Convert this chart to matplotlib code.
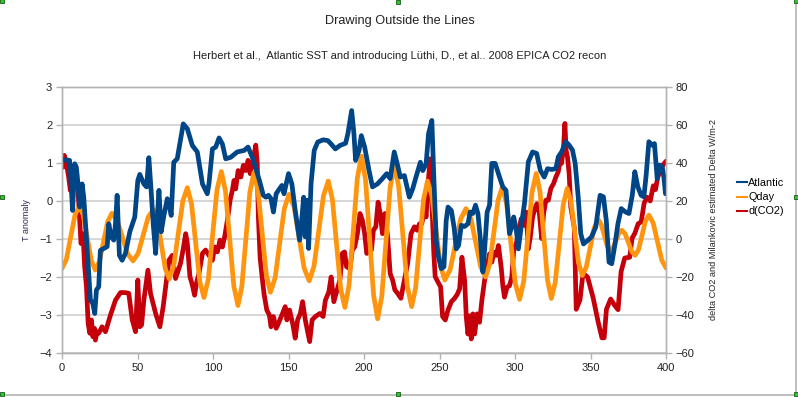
import matplotlib
matplotlib.use("Agg")
import matplotlib.pyplot as plt
from matplotlib.lines import Line2D

plt.rcParams['font.family'] = ['Liberation Sans', 'DejaVu Sans']

# Atlantic SST anomaly (left axis)
atl_x = [0, 1.5, 3.3, 5, 6, 7, 8.4, 9.5, 10.6, 11.7, 13.3, 14.4, 16, 17.7, 18.8, 20.4, 21.7, 22.8, 24.3, 25.4,
         27.7, 29.9, 31, 32.5, 34.3, 35.4, 36.5, 38, 39.8, 42, 44.9, 48.2, 50.2, 51.5, 54.2, 56, 57.5, 59, 60.4, 62,
         63, 64.2, 65.7, 67.5, 69.7, 70.8, 72.3, 74, 76.3, 78, 80.3, 83, 86.3, 89.6, 93, 96.2, 97.3, 99.6, 101.8, 104,
         106.2, 108.4, 111.7, 116, 120.6, 123.2, 126.5, 131, 133.3, 135, 136.7, 138.4, 140, 141.8, 143.3, 145.6, 147, 150, 152.2, 154.4,
         157.3, 158.9, 160, 161, 162.2, 163.3, 164.9, 167, 169.3, 172.9, 176, 178.2, 181, 184, 187.8, 189.3, 191.8, 193.3, 194.4, 196.7,
         198.2, 200.4, 203.3, 205.6, 208.9, 212.2, 215, 217.3, 220, 222.2, 224, 226.7, 230, 232.2, 234.4, 237.3, 238.9, 241.1, 242.7, 244.9,
         246.2, 247.8, 249.3, 251.1, 252.9, 254.4, 255.6, 257.8, 259.6, 261.1, 262.6, 264.4, 266.6, 268.8, 270.3, 272, 273.8, 275.4, 277.1, 278.7,
         279.8, 281.5, 283.1, 284.6, 286.8, 289.7, 291.9, 294, 296.3, 297.8, 299.1, 300.7, 302.2, 304, 306.2, 308.8, 311.6, 314.3, 316.7, 319.3,
         321.5, 324.2, 327, 328.6, 330.8, 333.6, 335.8, 338, 339.8, 341.8, 343.5, 345.3, 348, 350.5, 353.4, 356.3, 358.5, 360.4, 362.2, 364,
         366.2, 368.1, 370.3, 373.2, 375.4, 377.6, 379.3, 381.3, 383.5, 385.3, 386.8, 388.6, 390.8, 392.3, 394.1, 395.8, 397.4, 398.5, 399.6]
atl_t = [1.11, 1.07, 1.08, 1.07, 0.45, -0.25, 0.98, 0.89, 0.45, -0.16, 0.45, 0.1, -0.86, -1.9, -2.6, -2.7, -2.96, -2.34, -2.26, -1.3,
         -1.25, -1.2, -0.6, -0.94, -1.03, -0.6, 0.15, -1.43, -1.56, -1.38, -0.81, -0.42, 0.54, 0.7, 0.45, 0.37, 1.14, 0.28, -0.6, -1.38,
         -0.5, 0.28, -0.81, -0.38, 0.06, -0.07, -0.38, 1.02, 1.11, 1.5, 2.03, 1.9, 1.46, 1.29, 0.45, 0.19, 0.45, 1.37, 1.42, 1.66,
         1.5, 1.11, 1.15, 1.29, 1.33, 1.42, 1.1, 0.5, 0.15, 0.1, 0.15, 0.06, -0.29, 0.19, 0.28, 0.41, 0.19, 0.72, 0.45, -0.24,
         -1.03, -0.42, 0.1, -0.94, 0.02, -1.25, 0.45, 1.33, 1.55, 1.61, 1.59, 1.5, 1.37, 1.46, 1.52, 1.77, 2.38, 1.77, 1.07, 1.33,
         1.72, 1.42, 0.8, 0.37, 0.45, 0.59, 0.72, 0.59, 1.29, 0.94, 0.63, 0.67, 0.1, 0.32, 0.63, 1.02, 0.8, 0.98, 1.77, 2.12,
         0.63, -1.03, -1.47, -1.78, -1.73, -0.51, -0.16, -0.25, -0.69, -1.26, -1.17, -0.64, -0.67, -0.6, -0.29, -0.33, -0.11, -0.33, -1.04, -1.87,
         -1.3, -0.29, -0.11, 0.99, 0.99, 0.63, 0.37, 0.28, -0.86, -0.69, -0.42, -0.73, -1.26, -0.69, -0.07, 1.03, 1.29, 1.25, 0.81, 0.63,
         0.85, 0.83, 0.85, 1.16, 1.29, 1.56, 1.47, 1.34, 0.99, 0.11, -0.86, -1.13, -1.04, -0.95, -0.69, 0.15, 0.11, -0.51, -1.61, -1.65,
         -1.13, -0.6, -0.2, -0.29, -0.33, 0.15, 0.77, 0.37, 0.15, 0.11, 0.68, 1.56, 1.47, 1.51, 0.59, 0.94, 0.9, 0.63, 0.19]

# Qday insolation anomaly (right axis)
qday_x = [0, 2.9, 5.75, 8.6, 11.5, 14.1, 16.75, 19.4, 22, 24.75, 27.5, 30.25, 33, 36.5, 40, 43.5, 47, 50.4, 53.75, 57.1,
          60.5, 63.1, 65.75, 68.4, 71, 74, 77, 80, 83, 85.75, 88.5, 91.25, 94, 96.9, 99.75, 102.6, 105.5, 108.25, 111, 113.75,
          116.5, 119.1, 121.75, 124.4, 127, 129.75, 132.5, 135.25, 138, 141.1, 144.15, 147.2, 150.3, 153.65, 157, 160.35, 163.7, 166.85, 170, 173.15,
          176.3, 179.05, 181.8, 184.55, 187.3, 190.05, 192.8, 195.55, 198.3, 201, 203.65, 206.3, 209, 211.75, 214.5, 217.25, 220, 222.9, 225.75, 228.6,
          231.5, 234.1, 236.75, 239.4, 242, 244.9, 247.75, 250.6, 253.5, 257, 260.5, 264, 267.5, 270.75, 274, 277.25, 280.5, 283.25, 286, 288.75,
          291.5, 294.4, 297.25, 300.1, 303, 305.75, 308.5, 311.25, 314, 316.5, 319, 321.5, 324, 326.6, 329.25, 331.9, 334.5, 337, 339.5, 342,
          344.5, 347.1, 349.75, 352.4, 355, 357, 359, 361, 363, 364.9, 366.85, 368.8, 370.7, 372.9, 375.1, 377.3, 379.5, 381.8, 384.05, 386.3,
          388.6, 391.45, 394.3, 397.15, 400]
qday_w = [-15.5, -10.7, 1.0, 12.7, 17.5, 12.6, 0.6, -11.4, -16.3, -11.9, -1.4, 9.1, 13.5, 9.85, 1.0, -7.85, -11.5, -7.6, 2.0, 11.6,
          15.5, 10.2, -2.75, -15.7, -21.0, -14.0, 3.0, 20.0, 27.0, 18.6, -1.9, -22.4, -30.8, -21.1, 2.35, 25.8, 35.5, 25.2, 0.25, -24.7,
          -35.0, -24.8, -0.1, 24.6, 34.8, 25.6, 3.4, -18.8, -28.0, -20.5, -2.25, 16.0, 23.5, 16.9, 0.75, -15.4, -22.0, -14.3, 4.25, 22.8,
          30.5, 20.8, -2.75, -26.3, -36.0, -24.4, 3.8, 32.0, 43.6, 31.1, 0.8, -29.5, -42.0, -30.2, -1.6, 27.0, 38.8, 27.9, 1.6, -24.7,
          -35.6, -25.95, -2.55, 20.8, 30.5, 22.9, 4.45, -14.0, -21.6, -16.1, -2.8, 10.5, 16.0, 10.7, -2.0, -14.7, -20.0, -13.1, 3.65, 20.4,
          27.3, 18.7, -2.25, -23.2, -31.8, -22.1, 1.35, 24.8, 34.5, 24.9, 1.6, -21.7, -31.3, -22.85, -2.35, 18.1, 26.6, 19.9, 3.7, -12.5,
          -19.2, -14.9, -4.5, 5.9, 10.2, 7.8, 2.1, -3.6, -6.0, -4.5, -0.7, 3.05, 4.6, 2.7, -2.0, -6.7, -8.6, -5.5, 1.95, 9.4,
          12.5, 8.4, -1.4, -11.2, -15.3]

# d(CO2) (right axis)
co2_x = [0, 0.7, 1.5, 2.9, 4.4, 5.5, 6.6, 7.7, 9.5, 10.6, 11.7, 12.6, 13.9, 15, 16.2, 17.3, 18.4, 19.5, 20.4, 21.5,
         22.1, 23.2, 24.3, 26.5, 28.8, 32.1, 35.4, 38.7, 42, 44.2, 46.5, 48.7, 50.2, 51.5, 52.7, 54.2, 56, 56.9, 58.6, 62,
         64.8, 67, 69.2, 70.8, 73, 75.2, 77, 78.5, 80.3, 81.9, 83, 84.7, 86.3, 87.8, 89.2, 90.7, 93, 95.1, 97.3, 99.6,
         101.1, 102.9, 104.6, 106.2, 107.7, 109.5, 111.3, 112.8, 113.9, 115, 116.6, 118.4, 120.1, 121.7, 123.2, 124.6, 126.1, 128.3, 129.3, 130,
         131.2, 132.5, 133.8, 135.6, 137.3, 138.4, 140, 141.8, 143.3, 145.6, 147.8, 148.9, 150.7, 152.9, 154.4, 156, 157.8, 159.3, 161.1, 162.9,
         164, 165.6, 167.8, 170.7, 172.9, 174.4, 176.7, 178.2, 180, 182.2, 184, 185.6, 187.1, 188.4, 190.7, 192.2, 193.8, 195.6, 197.3, 198.9,
         200.4, 201.8, 203.3, 204.9, 206.2, 207.8, 209.3, 210.7, 212.2, 213.8, 215.6, 217.3, 218.9, 220.4, 222.2, 224.4, 226.7, 228.9, 231.1, 233.3,
         235.1, 236.7, 238.2, 240, 241.1, 242.2, 243.8, 245.1, 246.2, 247.1, 248.9, 250.7, 252, 253.8, 255.6, 257.8, 260, 261.8, 263.3, 264.8,
         266.6, 267.7, 268.8, 269.9, 271, 272.1, 273.2, 274.9, 276.5, 278, 279.8, 281.5, 283.1, 284.6, 286, 287.5, 289, 290.8, 291.9, 293,
         294.7, 296.3, 297.8, 299.1, 300.7, 302.2, 304, 305.7, 307.3, 308.8, 310.1, 311.6, 313.2, 314.5, 316, 317.6, 318.9, 320.4, 322, 323.7,
         325.5, 327, 328.6, 329.9, 330.8, 332.1, 333, 333.8, 334.7, 335.8, 336.9, 338, 339.2, 340.5, 343, 345, 348, 351.7, 355, 357.5,
         359, 360.5, 363.3, 366, 368.2, 370.2, 372.6, 375.9, 377.5, 379.3, 381.5, 383.5, 385.5, 387.5, 389.5, 391.5, 393, 394.5, 396.3, 398,
         400]
co2_d = [43, 37.8, 44, 39.6, 32.6, 25.6, 30.8, 27.4, 30.8, 25.6, 9.8, -2.4, 2.8, -14.6, -25.2, -44.4, -49.6, -42.6, -51.4, -47,
         -53.2, -48.8, -49.6, -46.2, -48.8, -40, -32.2, -28.2, -28.2, -28.6, -42.6, -48.8, -21.6, -46.2, -45.2, -32.2, -21.6, -16.4, -28.6, -39.2,
         -46.2, -35.6, -21.6, -11.2, -8.6, -20.8, -16.4, -12.8, -5, 2.8, -2.4, -19.8, -24.2, -29.6, -22.6, -18.2, -7.6, -5.8, -8.6, -11.2,
         -4.2, -6.8, -0.6, -4.2, 1.2, 9.8, 20.4, 25.6, 30.8, 26.4, 36, 32.6, 38.8, 36, 41.4, 34.4, 39.6, 49.4, 40, 12,
         -10, -20, -29, -37.4, -40, -46.2, -40.8, -47, -44.4, -40, -35.6, -42.6, -37.4, -45.2, -52.2, -42.6, -39.2, -33, -42.6, -49.6,
         -54, -42.6, -40.8, -39.2, -40.8, -32.2, -27.8, -20, -33, -26.8, -21.6, -7.6, -6.8, -14.6, -15.6, -5.8, -4.2, 2.8, 13.4, 9.8,
         2.8, -7.6, -5, -5.8, 4.6, 6.4, 19.4, 13.4, 2.8, 13.4, 1.2, -18.2, -21.6, -26.8, -28.6, -31.2, -21.6, -12.8, 2.8, 6.4,
         4.6, 8, 8, 15.2, 11.6, 27.4, 42.2, 15.2, -7.6, -19.8, -22.6, -25.2, -40.8, -42.6, -37.4, -33, -31.2, -29, -26.2, -9.6,
         -21.8, -41.2, -50, -40.4, -52.6, -39.4, -50, -39.4, -43.8, -32.4, -21.8, -14.8, -7.8, -12.2, -7, -8.6, -3.4, -14.8, -24.6, -30.6,
         -25.4, -24.6, -20.2, -6, -2.6, 2.8, 10.6, 7.2, 14.2, -5.2, 1, 11.6, 16, 18.6, 14.2, 0.2, 13.4, 20.4, 20.4, 26.6,
         29.2, 32.6, 35.4, 41.4, 39.8, 48.4, 60.8, 46.8, 43.2, 34.4, 16.8, 11.6, 6, -37, -32, -18, -20, -31, -43.6, -52,
         -52, -37, -31.6, -35, -37.2, -17.2, -10, -9.6, 0.4, 3, 8, 9, 19, 22, 20, 28, 26, 32.6, 36, 39,
         41]

left_ticks = [-4, -3, -2, -1, 0, 1, 2, 3]
right_ticks = [-60, -40, -20, 0, 20, 40, 60, 80]
x_ticks = [0, 50, 100, 150, 200, 250, 300, 350, 400]

BLUE = '#004586'
ORANGE = '#ff950e'
RED = '#c5000b'
FRAME = '#b3b3b3'
TEXT = '#222222'

fig = plt.figure(figsize=(7.98, 3.97), dpi=100)
ax = fig.add_axes([0.0777, 0.1108, 0.757, 0.6701])
ax2 = ax.twinx()

ax2.plot(co2_x, co2_d, color=RED, lw=3.4, solid_joinstyle='round', solid_capstyle='round', zorder=2)
ax2.plot(qday_x, qday_w, color=ORANGE, lw=3.4, solid_joinstyle='round', solid_capstyle='round', zorder=3)
ax.plot(atl_x, atl_t, color=BLUE, lw=3.4, solid_joinstyle='round', solid_capstyle='round')

# blue series above the secondary axis; grid lives on the secondary axis
ax.set_zorder(ax2.get_zorder() + 1)
ax.patch.set_visible(False)
ax2.set_axisbelow(True)
ax2.grid(axis='y', color='#d0d0d0', lw=1.2)

ax.set_xlim(0, 400)
ax.set_ylim(-4, 3)
ax2.set_ylim(-60, 80)
ax.set_xticks(x_ticks)
ax.set_yticks(left_ticks)
ax2.set_yticks(right_ticks)

for a in (ax, ax2):
    for s in a.spines.values():
        s.set_color(FRAME)
        s.set_linewidth(1.0)
    a.tick_params(colors=FRAME, labelcolor=TEXT, labelsize=8, length=4, width=1.0, pad=3)

ax.set_ylabel('T anomaly', fontsize=6.5, color='#2a2a55', labelpad=6)
ax2.set_ylabel('delta CO2 and Milankovic estimated Delta W/m-2', fontsize=6.6, color=TEXT, labelpad=10)

fig.text(0.501, 0.946, 'Drawing Outside the Lines', ha='center', va='center', fontsize=9.2, color=TEXT)
fig.text(0.501, 0.858, 'Herbert et al.,  Atlantic SST and introducing L\u00fcthi, D., et al.. 2008 EPICA CO2 recon',
         ha='center', va='center', fontsize=8.0, color=TEXT)

handles = [Line2D([], [], color=BLUE, lw=1.5), Line2D([], [], color=ORANGE, lw=1.5), Line2D([], [], color=RED, lw=1.5)]
fig.legend(handles, ['Atlantic', 'Qday', 'd(CO2)'], loc='center left', bbox_to_anchor=(0.924, 0.503),
           frameon=False, fontsize=7.8, handlelength=0.9, handletextpad=0.12, labelspacing=0.38, borderaxespad=0,
           borderpad=0)

# image border and selection handles around the chart object
fig.add_artist(Line2D([0.9975, 0.9975], [0.005, 1.0], color=FRAME, lw=1.2, transform=fig.transFigure))
fig.add_artist(Line2D([0.0, 0.9975], [0.005, 0.005], color=FRAME, lw=1.2, transform=fig.transFigure))
hx = [0.002, 0.002, 0.002, 0.499, 0.499, 0.998, 0.998, 0.998]
hy = [0.998, 0.503, 0.007, 0.995, 0.007, 0.998, 0.503, 0.007]
fig.add_artist(Line2D(hx, hy, ls='none', marker='s', ms=3, mfc='#22cc22', mec='#1a5a1a', mew=0.6,
                      transform=fig.transFigure))

fig.savefig('out.png', dpi=100)
